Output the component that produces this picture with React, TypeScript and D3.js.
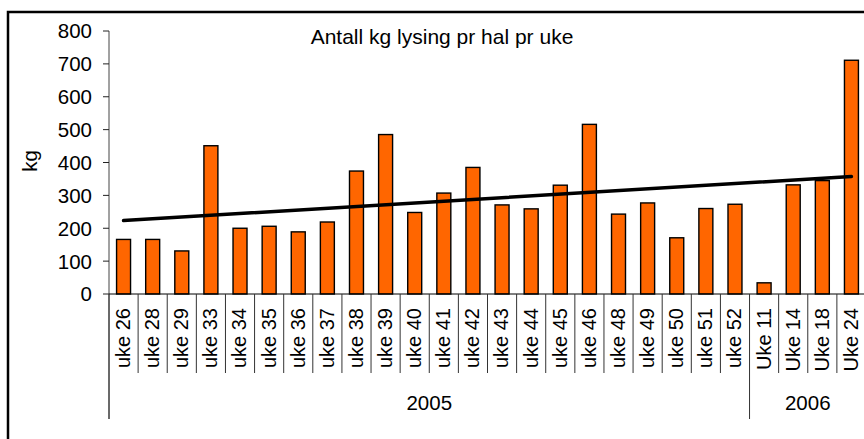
import React, { useEffect, useRef } from 'react'
import * as d3 from 'd3'

// weeks on the x axis, kg per haul, and the year each week belongs to
const weeks = ['uke 26', 'uke 28', 'uke 29', 'uke 33', 'uke 34', 'uke 35', 'uke 36', 'uke 37', 'uke 38', 'uke 39', 'uke 40',
  'uke 41', 'uke 42', 'uke 43', 'uke 44', 'uke 45', 'uke 46', 'uke 48', 'uke 49', 'uke 50', 'uke 51', 'uke 52',
  'Uke 11', 'Uke 14', 'Uke 18', 'Uke 24']
const kg = [166, 166, 131, 451, 200, 206, 189, 219, 374, 485, 248, 307, 385, 271, 259, 331, 516, 243, 277, 171, 260, 273,
  34, 332, 345, 711]
const weekYear = ['2005', '2005', '2005', '2005', '2005', '2005', '2005', '2005', '2005', '2005', '2005',
  '2005', '2005', '2005', '2005', '2005', '2005', '2005', '2005', '2005', '2005', '2005',
  '2006', '2006', '2006', '2006']
const yTicks = [0, 100, 200, 300, 400, 500, 600, 700, 800]
const title = 'Antall kg lysing pr hal pr uke'

const W = 864
const H = 439
const FONT = '"Liberation Sans", Arial, sans-serif'

export default function App() {
  const svgRef = useRef<SVGSVGElement>(null)

  useEffect(() => {
    const svg = d3.select(svgRef.current)
    svg.selectAll('*').remove()

    const left = 109, right = 866, top = 31, bottom = 294

    let y = d3.scaleLinear().domain([0, 800]).range([bottom, top])
    let cell = d3.scaleBand<string>().domain(weeks).range([left, right])
    let x = d3.scaleBand<string>().domain(weeks).range([left, right]).paddingInner(0.52).paddingOuter(0.26)

    // chart frame (runs off the picture at right and bottom)
    svg.append('rect')
      .attr('x', 8).attr('y', 12)
      .attr('width', 880).attr('height', 440)
      .attr('fill', 'white')
      .attr('stroke', 'black')
      .attr('stroke-width', 2.5)

    // title
    svg.append('text')
      .attr('x', 442).attr('y', 44)
      .attr('text-anchor', 'middle')
      .attr('font-family', FONT)
      .attr('font-size', 21)
      .text(title)

    // y axis
    let gY = svg.append('g')
    gY.append('line')
      .attr('x1', left).attr('x2', left)
      .attr('y1', top).attr('y2', 419)
      .attr('stroke', '#444').attr('stroke-width', 1)
    gY.selectAll('.tick').data(yTicks).enter().append('line')
      .attr('x1', left - 6).attr('x2', left)
      .attr('y1', d => y(d)).attr('y2', d => y(d))
      .attr('stroke', '#222')
    gY.selectAll('.lbl').data(yTicks).enter().append('text')
      .attr('x', 92).attr('y', d => y(d))
      .attr('dy', '0.36em')
      .attr('text-anchor', 'end')
      .attr('font-family', FONT)
      .attr('font-size', 20.5)
      .text(d => d)

    svg.append('text')
      .attr('transform', 'translate(37,161) rotate(-90)')
      .attr('text-anchor', 'middle')
      .attr('font-family', FONT)
      .attr('font-size', 20.5)
      .text('kg')

    // bars
    svg.append('g').selectAll('rect').data(weeks).enter().append('rect')
      .attr('x', d => x(d)!)
      .attr('y', (d, i) => y(kg[i]))
      .attr('width', x.bandwidth())
      .attr('height', (d, i) => y(0) - y(kg[i]))
      .attr('fill', '#FF6600')
      .attr('stroke', 'black')
      .attr('stroke-width', 1.4)

    // x axis and category dividers
    svg.append('line')
      .attr('x1', left).attr('x2', right)
      .attr('y1', bottom).attr('y2', bottom)
      .attr('stroke', 'black').attr('stroke-width', 1)

    let bounds = weeks.map(w => cell(w)!).concat([right])
    let groupBreaks = [0]
    weekYear.forEach((yr, i) => { if (i > 0 && yr !== weekYear[i - 1]) groupBreaks.push(i) })
    groupBreaks.push(weeks.length)

    svg.append('g').selectAll('line').data(bounds).enter().append('line')
      .attr('x1', d => d).attr('x2', d => d)
      .attr('y1', bottom)
      .attr('y2', (d, i) => groupBreaks.includes(i) ? 419 : 373)
      .attr('stroke', '#333').attr('stroke-width', 1)

    svg.append('g').selectAll('text').data(weeks).enter().append('text')
      .attr('transform', d => `translate(${cell(d)! + cell.bandwidth() / 2},308) rotate(-90)`)
      .attr('dy', '0.32em')
      .attr('text-anchor', 'end')
      .attr('font-family', FONT)
      .attr('font-size', 20)
      .text(d => d)

    let groups = groupBreaks.slice(0, -1).map((s, i) => ({
      year: weekYear[s],
      x0: bounds[s],
      x1: bounds[groupBreaks[i + 1]]
    }))
    svg.append('g').selectAll('text').data(groups).enter().append('text')
      .attr('x', d => (d.x0 + d.x1) / 2)
      .attr('y', 410)
      .attr('text-anchor', 'middle')
      .attr('font-family', FONT)
      .attr('font-size', 20.5)
      .text(d => d.year)

    // linear trend line (least squares over the week index)
    let n = kg.length
    let mx = d3.mean(kg.map((v, i) => i))!
    let my = d3.mean(kg)!
    let sxy = d3.sum(kg.map((v, i) => (i - mx) * (v - my)))
    let sxx = d3.sum(kg.map((v, i) => (i - mx) * (i - mx)))
    let slope = sxy / sxx
    let icpt = my - slope * mx
    let trend = d3.line<number>()
      .x(i => cell(weeks[i])! + cell.bandwidth() / 2)
      .y(i => y(icpt + slope * i))
    svg.append('path')
      .attr('d', trend([0, n - 1]) || '')
      .attr('fill', 'none')
      .attr('stroke', 'black')
      .attr('stroke-width', 3.5)
      .attr('stroke-linecap', 'round')
  }, [])

  return (
    <svg ref={svgRef} width={W} height={H}
      style={{ position: 'absolute', left: 0, top: 0, background: 'white' }} />
  )
}
